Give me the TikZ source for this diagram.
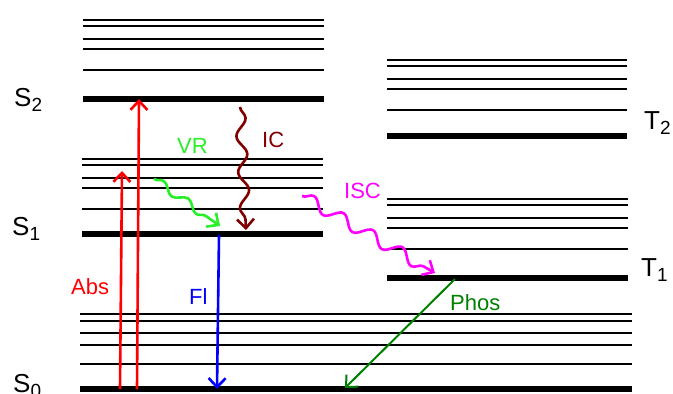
\documentclass[tikz,border=0pt]{standalone}
\usepackage{fontspec}
\setmainfont{Liberation Sans}
\usetikzlibrary{arrows.meta,decorations.pathmorphing}
\definecolor{vrgreen}{RGB}{40,240,40}
\definecolor{icred}{RGB}{128,0,0}
\definecolor{phosgreen}{RGB}{0,128,0}
\definecolor{iscmag}{RGB}{255,0,255}
\newcommand{\lvlname}[2]{#1\raisebox{-5.5pt}{\fontsize{19}{19}\selectfont #2}}
\begin{document}
\begin{tikzpicture}[x=1pt,y=-1pt,
  lvl/.style={line width=1.7pt},
  main/.style={line width=5.5pt},
  tip/.style={-{Straight Barb[length=9pt,width=17pt]}},
  lab/.style={font=\fontsize{22}{22}\selectfont, anchor=base west, inner sep=0pt},
  stlab/.style={font=\fontsize{26}{26}\selectfont, anchor=base west, inner sep=0pt},
  wave/.style 2 args={decorate, decoration={snake, amplitude=#1, segment length=#2, post length=9pt}},
  arr/.style={line width=2.6pt, tip}
]
\useasboundingbox (0,0) rectangle (673,394);
% S2 manifold
\foreach \y in {20,26,39,49,70} \draw[lvl] (83,\y) -- (324,\y);
\draw[main] (83,99) -- (324,99);
% S1 manifold
\foreach \y in {159,165,178,188,209} \draw[lvl] (82,\y) -- (323,\y);
\draw[main] (82,234) -- (323,234);
% S0 manifold
\foreach \y in {314,321,333,345,364} \draw[lvl] (80,\y) -- (632,\y);
\draw[main] (80,389) -- (632,389);
% T2 manifold
\foreach \y in {60,66,79,89,110} \draw[lvl] (387,\y) -- (627,\y);
\draw[main] (387,136) -- (627,136);
% T1 manifold
\foreach \y in {199,205,218,228,249} \draw[lvl] (387,\y) -- (628,\y);
\draw[main] (387,278) -- (628,278);

% state labels
\node[stlab] (s2) at (14,106) {\lvlname{S}{2}};
\node[stlab] (s1) at (12,235) {\lvlname{S}{1}};
\node[stlab] (s0) at (13,392) {\lvlname{S}{0}};
\node[stlab] (t2) at (644,129) {\lvlname{T}{2}};
\node[stlab] (t1) at (641,276) {\lvlname{T}{1}};

% arrow endpoints
\coordinate (a1s) at (120,389); \coordinate (a1e) at (122,171);
\coordinate (a2s) at (137,389); \coordinate (a2e) at (139,99);
\coordinate (fls) at (219,235); \coordinate (fle) at (217,389);
\coordinate (phs) at (455,279); \coordinate (phe) at (345,388);
\coordinate (vrs) at (154,179); \coordinate (vre) at (220,226);
\coordinate (ics) at (240,107); \coordinate (ice) at (246,230);
\coordinate (iss) at (302,196); \coordinate (ise) at (435,273);

\draw[arr, red] (a1s) -- (a1e);
\draw[arr, red] (a2s) -- (a2e);
\draw[arr, blue] (fls) -- (fle);
\draw[arr, phosgreen, line width=2pt] (phs) -- (phe);
\draw[arr, vrgreen, wave={4pt}{30pt}] (vrs) -- (vre);
\draw[arr, icred, wave={5pt}{36pt}] (ics) -- (ice);
\draw[arr, iscmag, wave={6pt}{34pt}] (iss) -- (ise);

% process labels
\node[lab, text=red] (abs) at (71,294) {Abs};
\node[lab, text=blue] (fl) at (189,304) {Fl};
\node[lab, text=vrgreen] (vr) at (177,153) {VR};
\node[lab, text=icred] (ic) at (262,147) {IC};
\node[lab, text=iscmag] (isc) at (344,198) {ISC};
\node[lab, text=phosgreen] (phos) at (450,310) {Phos};
\end{tikzpicture}
\end{document}
